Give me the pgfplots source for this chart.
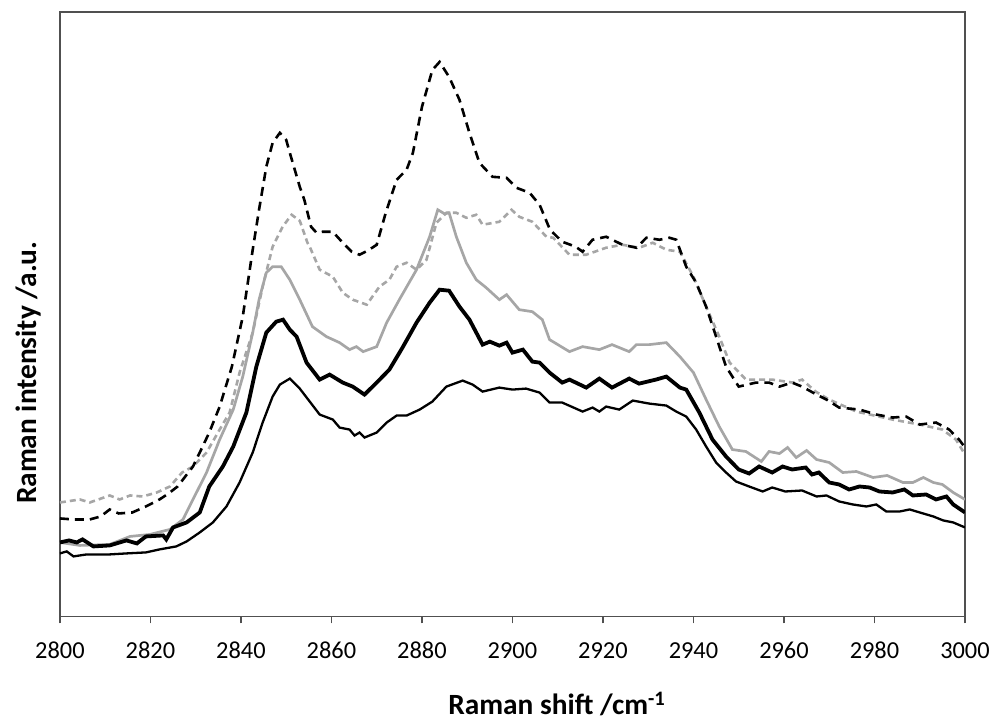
\documentclass[border=0pt]{standalone}
\usepackage{pgfplots}
\pgfplotsset{compat=1.18}
\usepackage{fontspec}
\setmainfont{Carlito}
\definecolor{axgray}{RGB}{80,80,80}
\definecolor{lgray}{RGB}{166,166,166}
\begin{document}
\begin{tikzpicture}
\begin{axis}[
  scale only axis, width=906bp, height=605bp,
  xmin=2800, xmax=3000, ymin=12, ymax=617, y dir=reverse,
  xtick={2800,2820,...,3000}, ytick=\empty,
  xtick pos=bottom, tick align=outside, major tick length=7bp,
  axis line style={axgray, line width=1.2bp},
  every tick/.style={axgray, line width=1.2bp},
  /pgf/number format/.cd, 1000 sep={}, assume math mode=true, /pgfplots/.cd,
  xticklabel style={font=\fontsize{24.5}{28}\selectfont, anchor=center, yshift=-27bp},
  xlabel={\textbf{Raman shift /cm\textsuperscript{-1}}},
  ylabel={\textbf{Raman intensity /a.u.}},
  every axis x label/.style={at={(rel axis cs:0.549,0)}, yshift=-88bp, anchor=center, font=\fontsize{29.5}{33}\selectfont},
  every axis y label/.style={at={(rel axis cs:0,0.403)}, xshift=-31bp, rotate=90, anchor=center, font=\fontsize{29.5}{33}\selectfont},
]
% gray solid
\addplot[lgray, line width=2.7bp] coordinates {
(2800,543)(2804.4,546)(2811,545)(2815.5,537)(2819.9,535)(2824.3,530)(2827.2,520)(2829.4,500)(2832.4,473)(2835.3,440)(2838.3,410)(2840.4,377)(2842.6,333)(2844,300)(2845.6,273)(2847,267)(2848.9,267)(2850.8,280)(2853,300)(2855.8,327)(2858.9,337)(2861.8,343)(2864,350)(2865.5,347)(2867,352)(2870,347)(2872.2,323)(2875,300)(2878.8,270)(2881.7,237)(2883.5,210)(2885,214)(2886,213)(2887.6,237)(2889.8,263)(2892,280)(2894.2,288)(2897.1,300)(2898.7,295)(2901.5,310)(2904.4,312)(2906.6,320)(2908.2,340)(2912.6,352)(2915.5,347)(2919.2,350)(2922,345)(2925.8,352)(2927.4,345)(2930.2,345)(2934,343)(2937,357)(2940,373)(2942.8,400)(2945.7,427)(2948.6,450)(2951.6,452)(2955,462)(2956.7,452)(2959,454)(2960.8,448)(2962.7,458)(2965,451)(2967.2,460)(2970,463)(2973,473)(2976,472)(2979.7,478)(2982.8,476)(2986.3,483)(2988.5,483)(2990.8,478)(2993,483)(2995,485)(2997.4,493)(3000,500)
};
% gray dashed
\addplot[lgray, line width=2.6bp, dash pattern=on 6bp off 4bp] coordinates {
(2800,503)(2804.4,500)(2806.6,503)(2811,496)(2813.2,500)(2815.5,496)(2818.3,497)(2821.4,493)(2824.3,487)(2827,473)(2829.4,467)(2832.4,453)(2835.3,430)(2837.5,413)(2839.7,373)(2842.6,333)(2844.8,287)(2847,247)(2849.2,227)(2851.2,215)(2853,221)(2854.7,243)(2855.2,247)(2857.4,270)(2860.3,277)(2862.5,293)(2864.7,300)(2867.8,305)(2870.6,287)(2872.8,280)(2874.4,267)(2876.6,263)(2878.8,270)(2881,260)(2883.2,223)(2885.4,213)(2887.6,213)(2889.8,218)(2892,215)(2893.4,225)(2897.1,222)(2899.8,210)(2901.5,217)(2904.4,222)(2907.5,237)(2909,238)(2912.6,255)(2916.3,255)(2920.7,248)(2924.3,245)(2928,248)(2931,243)(2934,250)(2937,252)(2940,277)(2942.8,307)(2945.7,337)(2948,363)(2951.6,380)(2957.4,380)(2962,383)(2964,380)(2967,392)(2970,400)(2976,412)(2984,420)(2990,425)(2995,430)(2998,440)(3000,455)
};
% black thin
\addplot[black, line width=2.3bp] coordinates {
(2800,554)(2801.5,552)(2803,557)(2805.9,555)(2811,555)(2814.7,554)(2819,553)(2822,550)(2825.7,547)(2828,542)(2830.9,533)(2833.8,523)(2836.8,507)(2839.7,483)(2842.6,453)(2844.8,423)(2847,397)(2848.6,385)(2850.8,379)(2853,389)(2855.2,402)(2857.4,415)(2860.3,420)(2861.8,428)(2864,430)(2865.1,436)(2866.2,433)(2867.3,438)(2870,433)(2872.2,423)(2874.4,416)(2876.6,416)(2879.5,410)(2882.3,402)(2885.4,387)(2889,381)(2891.2,385)(2893.4,392)(2897.1,388)(2900,390)(2903,389)(2906,393)(2908.2,403)(2911,403)(2915.5,412)(2917.7,408)(2919.2,412)(2920.7,407)(2923.6,410)(2926.6,401)(2930.2,404)(2934,406)(2936.2,412)(2938.4,417)(2940.6,430)(2942.8,447)(2945,463)(2947.2,473)(2949.4,482)(2952.3,487)(2955.3,492)(2957.4,488)(2960.3,492)(2964,491)(2967.2,497)(2969.4,496)(2972.2,502)(2975.2,505)(2978.2,507)(2980.4,505)(2982.6,512)(2985.6,512)(2987.8,510)(2990,513)(2993,517)(2995.2,521)(2997.4,523)(3000,528)
};
% black thick
\addplot[black, line width=3.8bp] coordinates {
(2800,543)(2802,541)(2803.7,543)(2805,540)(2807.4,547)(2811,546)(2814.7,541)(2817,544)(2819,537)(2822.8,536)(2823.5,540)(2825,528)(2828,523)(2830.9,513)(2833,487)(2836,467)(2838.3,447)(2841.2,413)(2843.4,367)(2845.6,333)(2847.8,322)(2849.3,320)(2850.8,330)(2852.3,337)(2854.5,363)(2857.4,380)(2859.6,375)(2862.5,383)(2864.7,387)(2867.3,395)(2870,383)(2872.8,370)(2875.7,348)(2878.8,323)(2881.7,303)(2883.9,290)(2886,291)(2888.3,307)(2890.5,320)(2893.4,345)(2895,342)(2897.1,346)(2898.7,343)(2900,353)(2902.3,350)(2904.4,362)(2906,363)(2908.2,373)(2911,383)(2912.6,380)(2916.3,388)(2919.2,379)(2922,388)(2925.8,379)(2928,384)(2931.7,380)(2934,377)(2937,388)(2938.4,390)(2941.3,413)(2944.2,440)(2947.2,457)(2950,470)(2952.3,474)(2954.5,467)(2957.4,473)(2959.7,467)(2961.8,470)(2964.8,468)(2966.2,475)(2967.7,473)(2970,483)(2972.2,485)(2974.4,490)(2976.7,487)(2978.9,488)(2981.1,492)(2984,493)(2986.6,490)(2988.5,496)(2991.4,495)(2993.6,500)(2995.9,497)(2997.4,505)(3000,513)
};
% black dashed
\addplot[black, line width=2.6bp, dash pattern=on 9bp off 6bp] coordinates {
(2800,519)(2803,520)(2806.6,520)(2809,517)(2811,510)(2813,514)(2816,513)(2819,507)(2822,500)(2824,494)(2826,487)(2829.4,467)(2831,452)(2833,433)(2835.3,407)(2838,367)(2840.4,317)(2842.6,250)(2844,210)(2845.6,167)(2847,143)(2848.6,133)(2850,140)(2850.8,153)(2853,187)(2854,200)(2855.5,227)(2856.7,233)(2858,232)(2860.3,232)(2862.5,243)(2864.5,252)(2866.2,255)(2868,251)(2870,245)(2872,213)(2874.4,180)(2876.6,170)(2878,153)(2880,107)(2882.3,70)(2883.9,62)(2886,77)(2888.3,100)(2890.5,133)(2892.7,163)(2895.6,177)(2898.7,178)(2900.9,188)(2903.8,193)(2906,205)(2908.3,230)(2911,242)(2914,247)(2915.5,252)(2917.7,240)(2920.7,237)(2924.3,245)(2927.4,248)(2929.6,238)(2932.5,240)(2934.7,238)(2936.2,240)(2938.4,267)(2940.6,283)(2942.8,307)(2945,337)(2947.2,367)(2950,387)(2953.8,383)(2956.7,383)(2959,387)(2961.8,383)(2964,387)(2967.2,395)(2969.4,400)(2972.2,408)(2976.7,410)(2980.4,415)(2984,418)(2987,417)(2990,425)(2993.6,423)(2996.5,430)(2998.7,440)(3000,448)
};
\end{axis}
\useasboundingbox (-60bp,-107bp) rectangle (933bp,617bp);
\end{tikzpicture}
\end{document}
